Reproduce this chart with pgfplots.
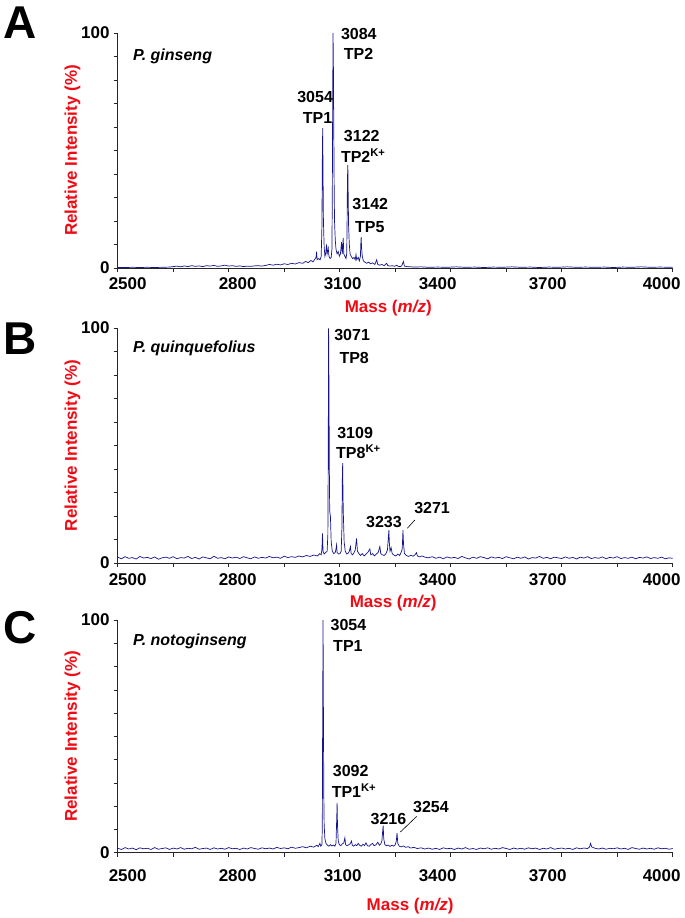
\documentclass[border=0pt]{standalone}
\usepackage{pgfplots}
\pgfplotsset{compat=1.18}
\usepackage{fontspec}
\setmainfont{Liberation Sans}
\definecolor{labred}{RGB}{240,10,20}
\definecolor{navy}{RGB}{20,20,140}
\tikzset{ann/.style={anchor=base west, inner sep=0pt, font=\fontsize{16}{16}\selectfont\bfseries}}
\pgfplotsset{
  spec/.style={
    width=555pt, scale only axis,
    xmin=2500, xmax=4000, ymin=0, ymax=100,
    axis x line*=bottom, axis y line*=left,
    axis line style={black!85, line width=0.6pt},
    xtick={2500,2800,3100,3400,3700,4000},
    xticklabels={\hspace*{20pt}2500,\hspace*{18pt}2800,\hspace*{6pt}3100,3400\hspace*{26pt},3700\hspace*{28pt},4000\hspace*{22pt}},
    minor xtick={2650,2950,3250,3550,3850},
    ytick={0,100}, yticklabels={0,100}, minor ytick={10,20,30,40,50,60,70,80,90},
    tick align=outside, major tick length=4pt, minor tick length=4pt,
    every tick/.style={black!85, line width=0.6pt},
    ticklabel style={font=\fontsize{17}{17}\selectfont\bfseries},
    /pgf/number format/assume math mode=true,
    /pgf/number format/1000 sep={},
    scaled ticks=false,
    yticklabel style={anchor=east, inner sep=0pt, xshift=-4pt},
    xlabel={Mass (\textit{m/z})},
    ylabel={Relative Intensity (\%)},
    every axis y label/.style={at={(axis description cs:-0.0667,0.5)}, rotate=90, anchor=south, inner sep=0pt, font=\fontsize{17}{17}\selectfont\bfseries, text=labred},
    clip=false,
    every axis plot/.append style={navy, line width=0.7pt},
  },
  xlab/.style={every axis x label/.style={at={(axis description cs:#1)}, anchor=north, inner sep=0pt, font=\fontsize{17}{17}\selectfont\bfseries, text=labred}}
}
\begin{document}
\begin{tikzpicture}
\useasboundingbox (0pt,0pt) rectangle (685pt,-918pt);
% ---------------- Panel A ----------------
\begin{axis}[spec, height=235pt, at={(117.7pt,-268pt)}, anchor=south west,
  xticklabel style={anchor=north, inner sep=0pt, yshift=-5pt},
  xlab={0.4874,-0.1362}]
\addplot[mark=none] coordinates {
(2500,0.2)(2520,0.2)(2540,0.3)(2560,0.2)(2580,0.3)(2600,0.2)(2620,0.3)(2640,0.4)(2660,0.8)(2670,0.5)(2680,0.9)(2690,0.6)(2700,1.0)(2710,0.7)(2720,0.9)(2730,0.6)(2740,1.0)(2750,0.8)(2760,1.1)(2770,0.7)(2780,0.9)(2790,1.2)(2800,0.8)(2810,1.0)(2820,0.7)(2830,0.9)(2840,0.6)(2850,0.8)(2860,0.7)(2870,0.9)(2880,1.0)(2890,0.8)(2900,1.1)(2910,1.5)(2920,1.2)(2930,1.6)(2940,1.3)(2950,1.8)(2960,1.5)(2970,2.0)(2980,1.7)(2990,2.3)(3000,2.0)(3008,2.8)(3015,2.3)(3022,3.2)(3028,2.6)(3033,3.8)(3036,4.5)(3037.5,7.0)(3039,3.5)(3043,4.0)(3047,3.5)(3050,5)(3052,18)(3053,45)(3054,59.5)(3055,40)(3056,20)(3058,9)(3060,5)(3062,6)(3064.5,10)(3066,6)(3069,8.5)(3071,5)(3074,4)(3077,4.5)(3079,8)(3080,30)(3081,70)(3082,100)(3083,85)(3084,59)(3085,35)(3086,20)(3088,12)(3090,8)(3093,6)(3096,7)(3099,5)(3102,6)(3105,11)(3107,6)(3109.5,12.8)(3111,6)(3114,5)(3117,4)(3119,6)(3120,20)(3121,38)(3122,43.9)(3123,30)(3124,18)(3126,10)(3128,6)(3131,5)(3135,4)(3139,4.5)(3142,3.5)(3144,5.7)(3146,3.5)(3150,4.5)(3153,3)(3156,5)(3157,10)(3158,13.1)(3159,9)(3161,5)(3164,3)(3168,2.5)(3173,2)(3178,2.5)(3183,1.8)(3189,2.2)(3195,1.5)(3200,3.5)(3203,1.5)(3208,1.2)(3214,1.5)(3220,1.0)(3227,2.0)(3230,1.0)(3236,0.8)(3242,1.0)(3248,0.7)(3254,1.2)(3258,0.7)(3264,0.6)(3268,1.0)(3272,2.8)(3275,0.8)(3282,0.6)(3292,0.5)(3302,0.4)(3320,0.5)(3340,0.3)(3365,0.4)(3390,0.3)(3415,0.5)(3440,0.3)(3465,0.4)(3490,0.2)(3515,0.4)(3540,0.3)(3565,0.5)(3590,0.3)(3615,0.4)(3640,0.2)(3665,0.4)(3690,0.3)(3715,0.5)(3740,0.3)(3765,0.4)(3790,0.3)(3815,0.4)(3840,0.2)(3865,0.4)(3890,0.3)(3915,0.5)(3940,0.3)(3965,0.4)(4000,0.3)
};
\node[ann] at (axis cs:3103,97.4) {3084};
\node[ann] at (axis cs:3111,88.9) {TP2};
\node[ann] at (axis cs:2985,70.6) {3054};
\node[ann] at (axis cs:3000,61.3) {TP1};
\node[ann] at (axis cs:3111,54.0) {3122};
\node[ann] at (axis cs:3103,44.7) {TP2\textsuperscript{K+}};
\node[ann] at (axis cs:3134,25.1) {3142};
\node[ann] at (axis cs:3141,15.3) {TP5};
\end{axis}
% ---------------- Panel B ----------------
\begin{axis}[spec, height=235pt, at={(117.7pt,-563pt)}, anchor=south west,
  xticklabel style={anchor=north, inner sep=0pt, yshift=-6pt},
  xlab={0.4964,-0.1362}]
\addplot[mark=none] coordinates {
(2500,2.5)(2510,1.8)(2520,2.7)(2530,2.0)(2540,2.3)(2550,1.7)(2560,2.8)(2570,2.1)(2580,2.4)(2590,1.9)(2600,2.6)(2610,1.6)(2620,2.2)(2630,2.5)(2640,2.0)(2650,2.7)(2660,1.8)(2670,2.3)(2680,2.1)(2690,2.8)(2700,1.9)(2710,2.4)(2720,1.7)(2730,2.6)(2740,2.2)(2750,1.8)(2760,2.9)(2770,2.0)(2780,2.3)(2790,1.8)(2800,2.6)(2810,2.1)(2820,2.5)(2830,1.9)(2840,2.7)(2850,2.2)(2860,1.8)(2870,2.6)(2880,2.0)(2890,2.4)(2900,2.1)(2910,2.8)(2920,2.2)(2930,2.5)(2940,2.0)(2950,2.9)(2960,2.3)(2970,2.7)(2980,2.4)(2990,3.0)(3000,2.6)(3010,3.2)(3020,2.8)(3030,3.4)(3040,3.0)(3046,4.0)
(3050,3.5)(3052,6)(3053.5,12.6)(3055,5)(3058,3.8)(3062,4.5)(3066,5)(3068,12)(3069,45)(3070,100)(3071,75)(3072,40)(3073,22)(3075,19.7)(3077,9)(3080,5)(3084,4)(3088,4.5)(3090,6)(3091.5,7.7)(3093,4.5)(3097,3.8)(3101,4)(3104,5)(3106,15)(3107,35)(3108,42.5)(3109,28)(3110,20)(3112,9)(3115,5)(3119,3.8)(3123,4.2)(3126,5)(3129,7)(3131,4)(3135,3.5)(3139,4.5)(3142,5.5)(3145.5,10.5)(3148,5)(3152,4)(3156,3.2)(3161,4)(3166,3)(3171,3.8)(3176,4.5)(3181.5,6)(3184,3.5)(3189,4)(3194,3)(3199,3.8)(3204,4.5)(3208.5,7)(3211,4)(3215,3.5)(3220,3.2)(3225,4)(3229,5.5)(3232,12)(3233,14)(3234,9)(3236,5)(3239,6.5)(3242,4)(3247,3.3)(3252,3.0)(3257,3.8)(3262,3.2)(3266,4.5)(3269,6)(3271,14)(3272.5,8)(3275,4)(3280,3.2)(3286,2.8)(3292,3.3)(3298,2.9)(3303,3.4)(3307.5,4.4)(3310,3)(3316,2.6)(3322,3.0)(3330,2.5)
(3340,2.2)(3350,2.7)(3360,2.0)(3370,2.5)(3380,1.8)(3390,2.6)(3400,2.1)(3410,2.4)(3420,1.9)(3430,2.8)(3440,2.2)(3450,1.7)(3460,2.5)(3470,2.0)(3480,2.7)(3490,2.3)(3500,1.8)(3510,2.6)(3520,2.1)(3530,2.4)(3540,1.9)(3550,2.7)(3560,2.2)(3570,1.8)(3580,2.5)(3590,2.0)(3600,2.6)(3610,1.7)(3620,2.3)(3630,2.1)(3640,2.8)(3650,2.0)(3660,2.4)(3670,1.8)(3680,2.5)(3690,2.2)(3700,1.9)(3710,2.6)(3720,2.0)(3730,2.4)(3740,1.7)(3750,2.5)(3760,2.1)(3770,2.7)(3780,1.9)(3790,2.3)(3800,2.0)(3810,2.6)(3820,1.8)(3830,2.4)(3840,2.1)(3850,2.7)(3860,1.9)(3870,2.3)(3880,2.0)(3890,2.5)(3900,1.8)(3910,2.4)(3920,2.1)(3930,2.6)(3940,1.9)(3950,2.3)(3960,2.0)(3970,2.5)(3980,1.8)(3990,2.2)(4000,2.0)
};
\node[ann] at (axis cs:3085,94.5) {3071};
\node[ann] at (axis cs:3099,85.1) {TP8};
\node[ann] at (axis cs:3093,52.8) {3109};
\node[ann] at (axis cs:3090,44.3) {TP8\textsuperscript{K+}};
\node[ann] at (axis cs:3171,14.9) {3233};
\node[ann] at (axis cs:3301,20.9) {3271};
\draw[black, line width=0.6pt] (axis cs:3283,14.8) -- (axis cs:3303,18.3);
\end{axis}
% ---------------- Panel C ----------------
\begin{axis}[spec, height=232.7pt, at={(117.7pt,-852.7pt)}, anchor=south west,
  xticklabel style={anchor=north, inner sep=0pt, yshift=-13pt},
  xlab={0.527,-0.1934}]
\addplot[mark=none] coordinates {
(2500,1.9)(2510,1.4)(2520,2.2)(2530,1.6)(2540,2.0)(2550,1.3)(2560,2.1)(2570,1.7)(2580,1.9)(2590,1.4)(2600,2.2)(2610,1.5)(2620,1.8)(2630,2.1)(2640,1.4)(2650,2.0)(2660,1.6)(2670,2.2)(2680,1.5)(2690,1.9)(2700,1.7)(2710,2.3)(2720,1.5)(2730,1.8)(2740,2.0)(2750,1.4)(2760,2.1)(2770,1.6)(2780,1.9)(2790,1.5)(2800,2.2)(2810,1.7)(2820,1.9)(2830,1.4)(2840,2.0)(2850,1.6)(2860,2.2)(2870,1.8)(2880,1.5)(2890,2.1)(2900,1.7)(2910,2.0)(2920,1.6)(2930,2.3)(2940,1.8)(2950,2.1)(2960,1.7)(2970,2.4)(2980,1.9)(2990,2.2)(3000,2.6)(3010,2.1)(3020,2.8)(3030,2.4)(3038,3.2)(3042,2.6)
(3046.5,4)(3049,2.8)(3052,3.5)(3053,12)(3054,60)(3055,100)(3056,60)(3057,25)(3058,12)(3060,6)(3063,4)(3067,3.2)(3071,2.8)(3075,3.5)(3079,2.9)(3083,3.3)(3087,2.8)(3090,4)(3092,15)(3093,21.3)(3094,12)(3096,5)(3099,3.5)(3103,3.0)(3107,3.8)(3111,4.2)(3114,6.4)(3116,3.5)(3120,3.0)(3124,3.4)(3128,3.8)(3132,5)(3134,3.2)(3138,2.8)(3142,3.5)(3146,3.0)(3150,4.0)(3154,3.2)(3158,2.8)(3163,3.6)(3167,3.1)(3171,4.2)(3175,3.0)(3180,2.8)(3184,3.5)(3189,4.0)(3193,3.0)(3198,3.4)(3203,4.5)(3207,3.2)(3211,3.8)(3214,5)(3216,9)(3217.5,11.6)(3219,6)(3222,3.5)(3226,3.0)(3231,3.3)(3236,2.7)(3241,3.2)(3246,2.8)(3250,3.4)(3253,5)(3255,8.5)(3257,4)(3261,2.8)(3266,2.5)(3272,2.9)(3278,2.3)(3285,2.6)(3292,2.0)(3300,2.3)(3310,1.8)(3320,2.1)
(3330,1.6)(3340,2.0)(3350,1.5)(3360,1.9)(3370,1.4)(3380,2.1)(3390,1.7)(3400,1.9)(3410,1.4)(3420,2.0)(3430,1.6)(3440,2.2)(3450,1.5)(3460,1.8)(3470,1.4)(3480,2.0)(3490,1.7)(3500,2.1)(3510,1.5)(3520,1.9)(3530,1.6)(3540,2.2)(3550,1.8)(3560,1.4)(3570,2.0)(3580,1.6)(3590,1.9)(3600,1.5)(3610,2.1)(3620,1.7)(3630,2.0)(3640,1.4)(3650,1.9)(3660,1.6)(3670,2.2)(3680,1.5)(3690,1.8)(3700,2.0)(3710,1.6)(3720,1.9)(3730,1.4)(3740,2.1)(3750,1.7)(3760,2.0)(3770,1.8)(3775,2.4)(3778,4.0)(3781,2.5)(3790,1.9)(3800,1.6)(3810,2.0)(3820,1.5)(3830,1.9)(3840,1.7)(3850,2.1)(3860,1.6)(3870,1.9)(3880,1.4)(3890,2.2)(3900,1.8)(3910,1.5)(3920,2.0)(3930,1.6)(3940,1.9)(3950,1.5)(3960,2.1)(3970,1.7)(3980,1.9)(3990,1.5)(4000,1.8)
};
\node[ann] at (axis cs:3075,95.7) {3054};
\node[ann] at (axis cs:3082,86.3) {TP1};
\node[ann] at (axis cs:3081,32.6) {3092};
\node[ann] at (axis cs:3078,23.6) {TP1\textsuperscript{K+}};
\node[ann] at (axis cs:3183,12.0) {3216};
\node[ann] at (axis cs:3298,17.2) {3254};
\draw[black, line width=0.6pt] (axis cs:3264,8.9) -- (axis cs:3308,15.6);
\end{axis}
% panel letters and species names
\node[anchor=base west, inner sep=0pt, font=\fontsize{46}{46}\selectfont\bfseries] at (3pt,-38pt) {A};
\node[anchor=base west, inner sep=0pt, font=\fontsize{46}{46}\selectfont\bfseries] at (3pt,-354pt) {B};
\node[anchor=base west, inner sep=0pt, font=\fontsize{46}{46}\selectfont\bfseries] at (3pt,-643pt) {C};
\node[anchor=base west, inner sep=0pt, font=\fontsize{16}{16}\selectfont\bfseries\itshape] at (133pt,-60pt) {P. ginseng};
\node[anchor=base west, inner sep=0pt, font=\fontsize{16}{16}\selectfont\bfseries\itshape] at (133pt,-352pt) {P. quinquefolius};
\node[anchor=base west, inner sep=0pt, font=\fontsize{16}{16}\selectfont\bfseries\itshape] at (133pt,-645pt) {P. notoginseng};
\end{tikzpicture}
\end{document}
